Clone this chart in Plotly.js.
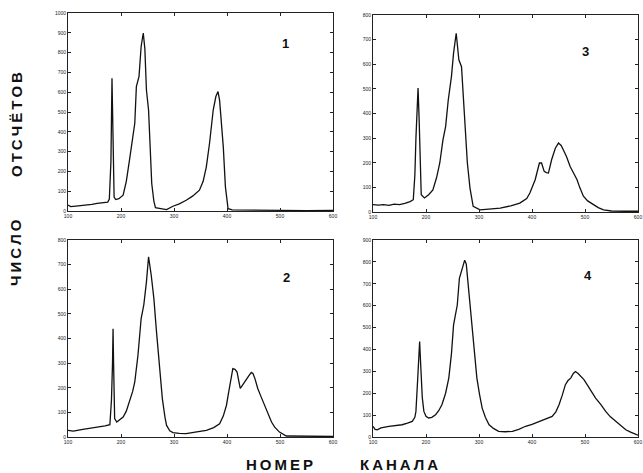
<!DOCTYPE html>
<html><head><meta charset="utf-8">
<script src="https://cdn.plot.ly/plotly-3.0.1.min.js"></script>
<style>html,body{margin:0;padding:0;background:#fff}#chart{width:643px;height:473px}</style>
</head><body><div id="chart"></div>
<script>
// Panel 1
const ch1 = [100,105,115,125,135,145,155,165,175,178,181,183,185,187,190,196,204,210,216,222,226,229,234,238,242,245,248,252,256,258,262,265,275,286,298,310,323,335,348,355,361,367,374,379,383,386,388,393,397,400,402,410,450,500,550,600];
const cnt1 = [30,22,25,27,30,33,38,42,45,60,250,670,300,70,58,62,80,150,257,360,443,628,680,831,899,820,611,510,290,139,50,17,12,7,24,36,54,75,105,150,223,341,510,578,603,560,493,324,122,40,12,6,4,3,2,3];
// Panel 2
const ch2 = [100,110,128,145,160,170,179,182,184,185,186,188,192,198,204,210,216,222,226,232,238,243,248,252,257,262,267,272,278,283,286,292,298,310,323,340,361,375,386,393,399,403,407,411,415,419,422,425,429,433,438,442,446,449,453,458,464,471,477,484,490,499,512,530,560,600];
const cnt2 = [27,24,31,36,41,45,50,150,300,440,300,75,61,70,81,105,142,185,224,332,481,536,630,732,658,563,427,292,156,80,47,25,18,15,14,20,27,38,54,85,129,180,237,278,275,264,230,197,210,224,240,251,262,258,235,197,165,129,100,61,40,20,4,3,2,2];
// Panel 3
const ch3 = [100,110,120,130,140,150,160,170,176,179,181,183,185,187,189,191,197,205,213,220,226,232,237,242,248,252,257,262,267,271,274,278,283,289,302,320,340,360,377,390,396,406,414,418,423,427,431,437,444,450,455,459,465,472,478,485,490,497,505,516,525,535,550,575,600];
const cnt3 = [30,28,30,27,32,30,35,42,50,150,300,450,503,381,150,70,57,70,90,140,199,293,347,455,550,645,726,618,590,442,347,200,97,23,9,12,16,25,36,55,77,131,199,199,165,160,158,212,259,280,270,253,225,185,160,131,100,64,45,30,18,9,4,3,3];
// Panel 4
const ch4 = [100,104,108,115,130,145,155,165,174,179,181,184,186,188,189,191,193,196,200,205,211,218,224,230,237,243,248,252,256,259,263,267,270,273,276,278,281,284,287,290,293,296,301,306,312,319,328,337,350,363,375,388,400,413,425,438,445,451,457,463,468,473,478,482,487,492,498,504,512,520,530,539,548,558,567,577,586,595,600];
const cnt4 = [49,35,33,42,49,52,56,63,71,90,117,250,380,436,380,254,180,117,95,87,90,102,120,147,200,269,380,512,560,603,725,755,780,808,790,740,660,573,490,406,330,269,195,132,90,56,38,26,24,26,35,49,58,71,82,94,115,147,190,239,258,269,290,299,290,277,262,239,210,178,148,117,92,71,52,33,22,11,8];

const xTicks = [100,200,300,400,500,600];
const yMax = {p1:1000, p2:800, p3:800, p4:900};
const panelLabels = ['1','2','3','4'];
const yTitle = ['ОТСЧЁТОВ','ЧИСЛО'];
const xTitle = ['НОМЕР','КАНАЛА'];

const line = {color:'#111', width:1.3};
const traces = [
  {x:ch1, y:cnt1, xaxis:'x', yaxis:'y', mode:'lines', line:line},
  {x:ch2, y:cnt2, xaxis:'x2', yaxis:'y2', mode:'lines', line:line},
  {x:ch3, y:cnt3, xaxis:'x3', yaxis:'y3', mode:'lines', line:line},
  {x:ch4, y:cnt4, xaxis:'x4', yaxis:'y4', mode:'lines', line:line}
];

function xa(dom, anchor){
  return {domain:dom, anchor:anchor, range:[100,600], tickvals:xTicks, ticks:'inside', ticklen:3, tickcolor:'#222',
    showline:true, linecolor:'#222', linewidth:1, mirror:'ticks', showgrid:false, zeroline:false,
    tickfont:{family:'Arial', size:5, color:'#222'}, fixedrange:true};
}
function ya(dom, anchor, max){
  return {domain:dom, anchor:anchor, range:[0,max], dtick:100, ticks:'inside', ticklen:3, tickcolor:'#222',
    showline:true, linecolor:'#222', linewidth:1, mirror:'ticks', showgrid:false, zeroline:false,
    tickfont:{family:'Arial', size:5, color:'#222'}, fixedrange:true};
}
const W=643, H=473;
const xl=[68/W, 333/W], xr=[373/W, 638/W];
const yt1=[1-211/H, 1-13/H], yt3=[1-212/H, 1-15/H], yb=[1-437/H, 1-240/H];

const bold = {family:'Liberation Sans, Arial', size:15, color:'#111'};
const numFont = {family:'Liberation Sans, Arial', size:13, color:'#111'};
function spaced(s){ return s.split('').join('\u2009'); }
function ann(text, px, py, font, angle){
  return {text:'<b>'+text+'</b>', x:px/W, y:1-py/H, xref:'paper', yref:'paper', xanchor:'center', yanchor:'middle',
    showarrow:false, textangle:angle||0, font:font};
}
const layout = {
  width:W, height:H, margin:{l:0,r:0,t:0,b:0}, paper_bgcolor:'#fff', plot_bgcolor:'#fff', showlegend:false,
  xaxis: xa(xl,'y'), yaxis: ya(yt1,'x',yMax.p1),
  xaxis2: xa(xl,'y2'), yaxis2: ya(yb,'x2',yMax.p2),
  xaxis3: xa(xr,'y3'), yaxis3: ya(yt3,'x3',yMax.p3),
  xaxis4: xa(xr,'y4'), yaxis4: ya(yb,'x4',yMax.p4),
  annotations:[
    ann(panelLabels[0], 285, 44, numFont),
    ann(panelLabels[1], 286, 277, numFont),
    ann(panelLabels[2], 585, 51, numFont),
    ann(panelLabels[3], 588, 275, numFont),
    ann(spaced(yTitle[0]), 16, 125, bold, -90),
    ann(spaced(yTitle[1]), 16, 253, bold, -90),
    ann(spaced(xTitle[0]), 279, 464, bold),
    ann(spaced(xTitle[1]), 399, 464, bold)
  ]
};
Plotly.newPlot('chart', traces, layout, {staticPlot:true, displayModeBar:false});
</script></body></html>
